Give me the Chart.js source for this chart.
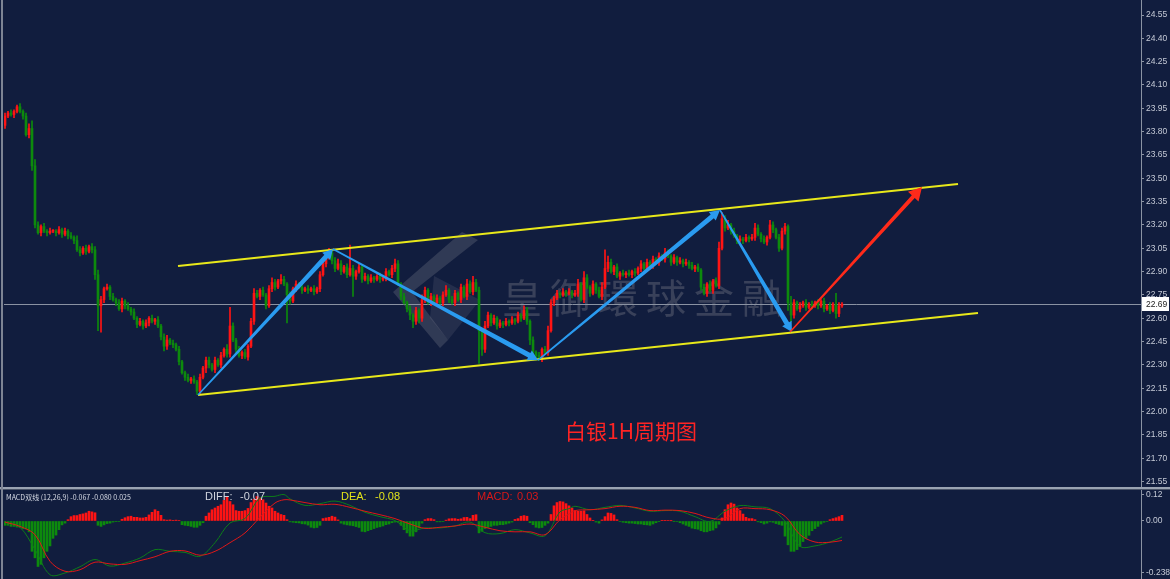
<!DOCTYPE html>
<html>
<head>
<meta charset="utf-8">
<script src="https://cdn.jsdelivr.net/npm/chart.js@4.4.0/dist/chart.umd.min.js"></script>
<style>
  html, body { margin: 0; padding: 0; background: #111d3e; width: 1170px; height: 579px; overflow: hidden; }
  canvas { position: absolute; left: 0; }
  #main { top: 0; }
  #macd { top: 490px; }
  .sep { position: absolute; left: 0; width: 1170px; }
</style>
</head>
<body>
<canvas id="main" width="1170" height="487"></canvas>
<div class="sep" style="top:487px;height:2px;background:#9aa3b2"></div>
<div class="sep" style="top:489px;height:1px;background:#4a5468"></div>
<canvas id="macd" width="1170" height="89"></canvas>
<div style="position:absolute;left:1px;top:0;width:2px;height:579px;background:#7d8494"></div>
<script>
// hourly silver candles, closes (open = previous close)
const firstOpen = 23.84;
const closes = [
  23.90,23.92,23.91,23.93,23.96,23.93,23.90,23.78,23.82,23.58,
  23.20,23.15,23.19,23.16,23.15,23.16,23.16,23.15,23.17,23.14,
  23.16,23.13,23.12,23.10,23.04,23.02,23.05,23.03,23.06,23.04,
  22.88,22.68,22.72,22.79,22.80,22.74,22.72,22.70,22.66,22.71,
  22.68,22.66,22.64,22.60,22.56,22.58,22.55,22.57,22.60,22.58,
  22.59,22.55,22.48,22.42,22.46,22.44,22.43,22.40,22.32,22.25,
  22.22,22.20,22.21,22.19,22.13,22.22,22.28,22.33,22.30,22.27,
  22.33,22.30,22.36,22.40,22.37,22.55,22.46,22.40,22.36,22.38,
  22.35,22.42,22.58,22.76,22.74,22.78,22.75,22.68,22.79,22.83,
  22.80,22.84,22.85,22.82,22.75,22.71,22.79,22.82,22.80,22.78,
  22.79,22.78,22.79,22.77,22.79,22.88,22.95,22.99,23.02,22.97,
  22.92,22.95,22.90,22.93,22.88,22.92,22.87,22.90,22.93,22.85,
  22.87,22.84,22.86,22.85,22.87,22.85,22.86,22.90,22.88,22.92,
  22.95,22.82,22.74,22.70,22.66,22.62,22.58,22.65,22.60,22.72,
  22.78,22.70,22.74,22.70,22.73,22.70,22.75,22.78,22.72,22.70,
  22.76,22.72,22.80,22.74,22.82,22.77,22.83,22.78,22.52,22.40,
  22.55,22.62,22.57,22.60,22.55,22.57,22.56,22.58,22.57,22.59,
  22.58,22.62,22.60,22.65,22.58,22.46,22.38,22.36,22.34,22.40,
  22.38,22.52,22.70,22.73,22.76,22.75,22.77,22.76,22.77,22.75,
  22.76,22.82,22.72,22.86,22.80,22.76,22.82,22.78,22.74,22.80,
  22.92,22.96,22.90,22.93,22.87,22.89,22.88,22.89,22.88,22.90,
  22.89,22.92,22.95,22.92,22.96,22.94,22.98,22.96,23.00,22.98,
  23.02,23.00,22.96,22.99,22.96,22.97,22.95,22.96,22.94,22.92,
  22.93,22.91,22.80,22.76,22.82,22.78,22.84,22.81,23.05,23.24,
  23.18,23.20,23.16,23.13,23.10,23.11,23.10,23.12,23.11,23.12,
  23.18,23.14,23.11,23.09,23.12,23.20,23.17,23.12,23.05,23.16,
  23.19,22.70,22.62,22.70,22.66,22.68,22.70,22.67,22.69,22.68,
  22.70,22.68,22.71,22.66,22.68,22.65,22.69,22.63,22.68,22.69
];
// wick lengths in cents above / below the body
const upWick = [
  2,1,2,1,1,2,1,2,3,5, 4,2,1,2,1,2,1,1,2,1, 2,1,2,1,3,2,1,2,1,2, 2,3,2,1,2,1,2,1,2,2,
  1,2,1,2,1,2,1,2,1,2, 1,2,1,2,3,1,2,1,2,1, 1,2,1,2,1,2,1,2,2,1, 2,1,2,1,3,12,2,1,2,1,
  2,1,2,3,2,1,2,1,2,3, 2,1,3,2,1,2,1,2,1,2, 1,2,1,2,1,2,3,2,3,2, 2,3,2,1,2,15,2,1,2,1,
  2,1,2,1,1,2,1,2,1,2, 3,2,1,2,1,2,1,2,1,3, 2,1,2,1,2,1,2,3,1,2, 2,1,2,1,3,2,4,2,2,1,
  3,2,1,2,1,2,1,2,1,2, 1,2,1,3,2,1,2,1,2,1, 2,3,2,1,2,1,2,1,2,1, 2,3,1,4,2,1,2,1,2,3,
  12,4,2,1,2,1,2,1,2,1, 2,1,2,1,2,1,2,1,2,1, 3,2,1,2,1,2,1,2,1,2, 1,2,1,2,1,2,1,2,4,4,
  2,3,1,2,1,2,1,2,1,2, 3,2,1,2,1,3,2,1,2,2, 2,1,4,2,1,2,1,2,1,2, 1,2,1,2,1,2,1,7,2,1
];
const downWick = [
  2,1,1,2,1,1,2,1,2,3, 2,1,2,1,2,1,1,2,1,2, 1,2,1,2,1,2,1,2,1,2, 3,16,17,2,1,2,1,2,1,2,
  2,1,2,1,2,1,2,1,2,1, 2,1,2,3,2,1,2,1,2,1, 2,1,2,1,2,2,1,3,2,1, 2,1,2,1,2,2,1,2,1,2,
  1,2,1,2,1,2,1,2,1,2, 2,1,2,1,18,2,1,2,1,2, 1,2,1,2,1,2,1,2,1,2, 2,1,2,1,2,1,13,2,1,2,
  1,2,1,2,1,2,1,2,1,2, 2,1,2,1,2,3,4,2,3,2, 2,1,2,1,2,1,2,1,2,1, 2,1,2,1,2,1,2,1,21,4,
  2,1,2,1,2,1,2,1,2,1, 2,1,2,1,2,3,2,3,1,2, 1,2,1,2,1,2,1,2,1,2, 1,2,1,2,1,2,1,2,1,2,
  1,2,1,2,1,2,1,2,1,2, 2,1,2,1,2,1,2,1,2,1, 2,1,2,1,2,1,2,1,2,1, 2,1,2,1,2,1,2,1,2,1,
  2,1,2,1,2,1,2,1,2,1, 2,1,2,1,2,1,2,1,2,1, 2,5,4,2,1,2,1,2,1,2, 1,2,1,2,1,2,1,3,2,1
];
const priceTicks = [21.55,21.70,21.85,22.00,22.15,22.30,22.45,22.60,22.75,22.90,23.05,23.20,23.35,23.50,23.65,23.80,23.95,24.10,24.25,24.40,24.55];

// MACD histogram, one bar per candle
const macdHist = [
  -0.020,-0.020,-0.025,-0.025,-0.028,-0.030,-0.035,-0.037,-0.050,-0.140,
  -0.170,-0.210,-0.200,-0.170,-0.140,-0.115,-0.080,-0.065,-0.040,-0.018,
  -0.010,0.006,0.020,0.025,0.025,0.030,0.033,0.037,0.045,0.042,
  0.038,-0.020,-0.025,-0.018,-0.012,-0.010,-0.005,-0.003,-0.002,0.008,
  0.015,0.020,0.022,0.017,0.017,0.014,0.014,0.017,0.028,0.040,
  0.052,0.045,0.026,0.006,0.004,0.005,0.003,0.004,0.002,-0.017,
  -0.020,-0.022,-0.025,-0.029,-0.029,-0.020,-0.008,0.022,0.037,0.052,
  0.060,0.068,0.075,0.095,0.113,0.090,0.075,0.048,0.045,0.045,
  0.048,0.058,0.085,0.100,0.113,0.106,0.098,0.083,0.068,0.060,
  0.045,0.037,0.030,0.026,0.006,-0.004,-0.006,-0.008,-0.009,-0.013,
  -0.014,-0.019,-0.029,-0.032,-0.030,-0.020,0.011,0.014,0.017,0.022,
  0.018,0.005,-0.010,-0.015,-0.018,-0.020,-0.022,-0.026,-0.030,-0.048,
  -0.050,-0.045,-0.040,-0.035,-0.030,-0.027,-0.023,-0.017,-0.014,-0.008,
  -0.005,-0.004,-0.020,-0.040,-0.055,-0.070,-0.070,-0.050,-0.032,-0.010,
  0.006,0.011,0.011,0.006,-0.004,-0.004,-0.003,0.004,0.010,0.011,
  0.011,0.008,0.010,0.016,0.017,0.011,0.026,0.029,-0.055,-0.048,
  -0.035,-0.030,-0.025,-0.020,-0.020,-0.017,-0.017,-0.014,-0.010,-0.005,
  0.007,0.011,0.022,0.025,0.022,-0.008,-0.017,-0.029,-0.032,-0.030,
  -0.020,-0.010,0.030,0.070,0.085,0.090,0.088,0.080,0.070,0.060,
  0.048,0.045,0.045,0.047,0.030,0.014,0.003,-0.005,-0.010,0.005,
  0.020,0.037,0.035,0.028,0.006,-0.002,-0.006,-0.008,-0.010,-0.010,
  -0.012,-0.014,-0.014,-0.017,-0.018,-0.020,-0.014,-0.008,-0.003,0.003,
  0.003,0.002,0.001,-0.001,-0.002,-0.008,-0.014,-0.020,-0.025,-0.033,
  -0.036,-0.038,-0.045,-0.050,-0.050,-0.045,-0.042,-0.032,-0.015,0.014,
  0.052,0.075,0.083,0.078,0.060,0.048,0.032,0.017,0.011,0.011,
  0.006,-0.004,-0.008,-0.014,-0.010,-0.004,-0.006,-0.012,-0.016,-0.020,
  -0.070,-0.110,-0.140,-0.140,-0.132,-0.118,-0.095,-0.080,-0.066,-0.045,
  -0.035,-0.025,-0.014,-0.006,-0.002,0.006,0.011,0.015,0.020,0.026
];
// DIFF / DEA lines, read at these candle positions
const lineIdx = [0,5,10,15,20,25,30,35,40,45,50,55,60,65,70,75,80,85,90,93,95,100,105,110,115,120,125,130,135,140,145,150,155,160,165,170,175,180,185,188,190,195,200,205,210,215,220,225,230,235,240,245,250,255,260,265,270,275,279];
const diffVals = [-0.005,-0.029,-0.132,-0.248,-0.24,-0.211,-0.178,-0.208,-0.194,-0.171,-0.132,-0.14,-0.145,-0.163,-0.1,-0.009,0.011,0.106,0.114,0.122,0.102,0.072,0.08,0.092,0.072,0.04,0.02,0.002,-0.045,-0.032,-0.032,-0.023,-0.005,-0.054,-0.058,-0.04,-0.055,-0.068,0.042,0.057,0.068,0.052,0.063,0.072,0.06,0.045,0.048,0.045,0.02,-0.002,0.045,0.071,0.065,0.057,-0.002,-0.117,-0.115,-0.097,-0.074];
const deaVals = [-0.005,-0.025,-0.063,-0.186,-0.232,-0.225,-0.19,-0.198,-0.2,-0.183,-0.165,-0.14,-0.138,-0.158,-0.14,-0.10,-0.055,0.017,0.083,0.098,0.097,0.085,0.075,0.077,0.063,0.045,0.029,0.011,-0.014,-0.034,-0.029,-0.023,-0.014,-0.029,-0.045,-0.05,-0.05,-0.063,0.006,0.032,0.048,0.052,0.057,0.068,0.063,0.048,0.05,0.048,0.035,0.014,0.011,0.057,0.057,0.052,0.022,-0.063,-0.097,-0.098,-0.09];
const macdTicks = [0.12, 0, -0.238];
const macdTickLabels = ['0.12', '0.00', '-0.238'];

// hand-drawn trend lines: [candle position, price]
const upperChannel = [[57.67, 22.936], [317.67, 23.463]];
const lowerChannel = [[64.33, 22.106], [324.33, 22.634]];
const blueArrows = [
  [[64.33, 22.106], [109.33, 23.045]],
  [[109.33, 23.045], [177.67, 22.331]],
  [[177.67, 22.331], [238.33, 23.296]],
  [[238.33, 23.296], [262.33, 22.511]]
];
const redArrow = [[261.67, 22.511], [305.67, 23.444]];

const opens = closes.map((c, i) => (i === 0 ? firstOpen : closes[i - 1]));
const highs = closes.map((c, i) => Math.max(opens[i], c) + upWick[i] / 100);
const lows = closes.map((c, i) => Math.min(opens[i], c) - downWick[i] / 100);
const UP = '#ff1414';
const DOWN = '#0d8a0d';
const candleColors = closes.map((c, i) => (c >= opens[i] ? UP : DOWN));

Chart.defaults.animation = false;
Chart.defaults.font.family = 'Liberation Sans';

const xAxis = { type: 'linear', display: false, min: -1 / 3, max: 379 - 1 / 3, offset: false };

// keep the plot area flush with the canvas edges
function fitAxis(s) {
  s.width = 29;
  s.paddingTop = 0;
  s.paddingBottom = 0;
}

function drawArrow(ctx, a, b, w0, w1, head, color) {
  const dx = b.x - a.x, dy = b.y - a.y, len = Math.hypot(dx, dy);
  const ux = dx / len, uy = dy / len, nx = -uy, ny = ux;
  const bx = b.x - ux * head, by = b.y - uy * head;
  const hw = head * 0.55;
  ctx.beginPath();
  ctx.moveTo(a.x + nx * w0 / 2, a.y + ny * w0 / 2);
  ctx.lineTo(bx + nx * w1 / 2, by + ny * w1 / 2);
  ctx.lineTo(bx + nx * hw, by + ny * hw);
  ctx.lineTo(b.x, b.y);
  ctx.lineTo(bx - nx * hw, by - ny * hw);
  ctx.lineTo(bx - nx * w1 / 2, by - ny * w1 / 2);
  ctx.lineTo(a.x - nx * w0 / 2, a.y - ny * w0 / 2);
  ctx.closePath();
  ctx.fillStyle = color;
  ctx.fill();
}

const drawings = {
  id: 'drawings',
  beforeDatasetsDraw(chart) {
    const { ctx, chartArea, scales: { y } } = chart;
    ctx.save();
    // watermark logo + text
    ctx.fillStyle = 'rgba(150,150,160,0.24)';
    ctx.beginPath();
    ctx.moveTo(462, 232); ctx.lineTo(478, 240); ctx.lineTo(412, 292); ctx.lineTo(448, 340);
    ctx.lineTo(440, 348); ctx.lineTo(393, 292); ctx.closePath(); ctx.fill();
    ctx.fillStyle = 'rgba(150,150,160,0.15)';
    ctx.beginPath();
    ctx.moveTo(434, 276); ctx.lineTo(480, 300); ctx.lineTo(448, 340); ctx.lineTo(430, 318);
    ctx.closePath(); ctx.fill();
    ctx.fillStyle = 'rgba(130,130,140,0.36)';
    ctx.font = '40px "Noto Sans CJK TC"';
    ctx.textBaseline = 'middle';
    ctx.textAlign = 'center';
    const wm = '皇御環球金融';
    for (let k = 0; k < wm.length; k++) ctx.fillText(wm[k], 522 + k * 48, 298);
    // last price line
    const py = Math.round(y.getPixelForValue(closes[closes.length - 1])) + 0.5;
    ctx.strokeStyle = '#8a92a2';
    ctx.lineWidth = 1;
    ctx.beginPath();
    ctx.moveTo(chartArea.left, py);
    ctx.lineTo(chartArea.right, py);
    ctx.stroke();
    ctx.restore();
  },
  afterDatasetsDraw(chart) {
    const { ctx, scales: { x, y } } = chart;
    const pt = (p) => ({ x: x.getPixelForValue(p[0]), y: y.getPixelForValue(p[1]) });
    ctx.save();
    ctx.strokeStyle = '#e8e81a';
    ctx.lineWidth = 2;
    [upperChannel, lowerChannel].forEach((ln) => {
      const a = pt(ln[0]), b = pt(ln[1]);
      ctx.beginPath(); ctx.moveTo(a.x, a.y); ctx.lineTo(b.x, b.y); ctx.stroke();
    });
    blueArrows.forEach((ar) => drawArrow(ctx, pt(ar[0]), pt(ar[1]), 1.5, 5, 10, '#2a9bf0'));
    drawArrow(ctx, pt(redArrow[0]), pt(redArrow[1]), 1.5, 4, 13, '#ff2a1a');
    // title
    ctx.fillStyle = '#ff2424';
    ctx.font = '21px "Noto Sans CJK SC"';
    ctx.textBaseline = 'middle';
    ctx.fillText('白银1H周期图', 565, 431);
    ctx.restore();
  },
  afterDraw(chart) {
    const { ctx, scales: { y } } = chart;
    const last = closes[closes.length - 1];
    const py = Math.round(y.getPixelForValue(last));
    ctx.save();
    ctx.fillStyle = '#ffffff';
    ctx.fillRect(1142, py - 7, 27, 14);
    ctx.fillStyle = '#1a1a1a';
    ctx.font = '8.5px "Liberation Sans"';
    ctx.textBaseline = 'middle';
    ctx.fillText(last.toFixed(2), 1146, py + 0.5);
    ctx.restore();
  }
};

new Chart(document.getElementById('main'), {
  type: 'bar',
  data: {
    datasets: [
      {
        data: closes.map((c, i) => ({ x: i, y: [opens[i], c] })),
        backgroundColor: candleColors,
        barThickness: 2,
        minBarLength: 1,
        grouped: false,
        order: 0
      },
      {
        data: closes.map((c, i) => ({ x: i, y: [lows[i], highs[i]] })),
        backgroundColor: candleColors,
        barThickness: 1,
        grouped: false,
        order: 1
      }
    ]
  },
  options: {
    responsive: false,
    layout: { padding: { left: 4, right: 0, top: 0, bottom: 0 } },
    plugins: { legend: { display: false }, tooltip: { enabled: false } },
    scales: {
      x: xAxis,
      y: {
        position: 'right',
        min: 21.5146,
        max: 24.6465,
        afterBuildTicks: (s) => { s.ticks = priceTicks.map((v) => ({ value: v })); },
        afterFit: fitAxis,
        ticks: {
          color: '#c5cad6',
          font: { size: 8.5 },
          padding: 2,
          autoSkip: false,
          callback: (v) => Number(v).toFixed(2)
        },
        grid: { drawOnChartArea: false, drawTicks: true, tickLength: 3, color: '#8b93a3' },
        border: { color: '#8b93a3', width: 1 }
      }
    }
  },
  plugins: [drawings]
});

const macdLabels = {
  id: 'macdLabels',
  afterDraw(chart) {
    const { ctx } = chart;
    ctx.save();
    ctx.textBaseline = 'middle';
    ctx.fillStyle = '#d8dce6';
    ctx.font = '7px "Noto Sans CJK SC"';
    ctx.fillText('MACD双线 (12,26,9) -0.067 -0.080 0.025', 6, 7);
    ctx.font = '11px "Liberation Sans"';
    ctx.fillStyle = '#d0d4de';
    ctx.fillText('DIFF:', 205, 7);
    ctx.fillText('-0.07', 240, 7);
    ctx.fillStyle = '#e3e31a';
    ctx.fillText('DEA:', 341, 7);
    ctx.fillText('-0.08', 375, 7);
    ctx.fillStyle = '#d81818';
    ctx.fillText('MACD:', 477, 7);
    ctx.fillText('0.03', 517, 7);
    ctx.restore();
  }
};

new Chart(document.getElementById('macd'), {
  type: 'bar',
  data: {
    datasets: [
      {
        type: 'line',
        data: lineIdx.map((k, j) => ({ x: k, y: deaVals[j] })),
        borderColor: '#e01818',
        borderWidth: 1,
        pointRadius: 0,
        tension: 0.35,
        order: 0
      },
      {
        type: 'line',
        data: lineIdx.map((k, j) => ({ x: k, y: diffVals[j] })),
        borderColor: '#0d7d1a',
        borderWidth: 1,
        pointRadius: 0,
        tension: 0.35,
        order: 1
      },
      {
        data: macdHist.map((v, i) => ({ x: i, y: v })),
        backgroundColor: macdHist.map((v) => (v >= 0 ? UP : DOWN)),
        barThickness: 2,
        grouped: false,
        order: 2
      }
    ]
  },
  options: {
    responsive: false,
    layout: { padding: { left: 4, right: 0, top: 0, bottom: 0 } },
    plugins: { legend: { display: false }, tooltip: { enabled: false } },
    scales: {
      x: xAxis,
      y: {
        position: 'right',
        min: -0.2677,
        max: 0.143,
        afterBuildTicks: (s) => { s.ticks = macdTicks.map((v) => ({ value: v })); },
        afterFit: fitAxis,
        ticks: {
          color: '#c5cad6',
          font: { size: 8.5 },
          padding: 2,
          autoSkip: false,
          callback: (v, i) => macdTickLabels[i]
        },
        grid: { drawOnChartArea: false, drawTicks: true, tickLength: 3, color: '#8b93a3' },
        border: { color: '#8b93a3', width: 1 }
      }
    }
  },
  plugins: [macdLabels]
});
</script>
</body>
</html>
